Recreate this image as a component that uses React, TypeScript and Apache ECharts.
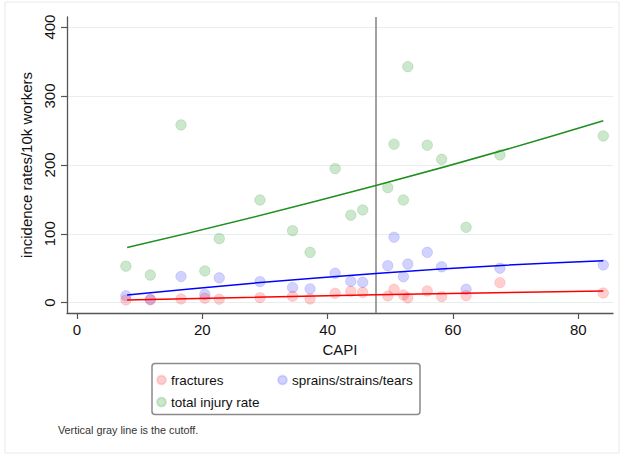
import React, { useEffect, useRef } from "react";
import * as echarts from "echarts";

// CAPI values (x) shared by the three series
const capi = [7.8, 11.7, 16.6, 20.4, 22.7, 29.2, 34.4, 37.2, 41.2, 43.7, 45.6, 49.6, 50.6, 52.1, 52.8, 55.9, 58.2, 62.1, 67.5, 84.0];
const fractures = [4, 4, 5.4, 6.4, 5, 7.3, 9.3, 5.4, 13.6, 16.5, 15, 9.7, 19.4, 11.2, 6.8, 17, 8.7, 10.2, 29, 14];
const sprains = [10, 5, 38, 12, 36, 30.5, 22, 20, 42.7, 31, 29.6, 53.7, 95, 37.7, 56, 73, 52, 19.4, 50, 54.7];
const totalInjury = [53, 40, 258, 46, 93, 149, 104.5, 73, 194.5, 127, 134.5, 167, 230, 149, 342.5, 228.5, 208, 109.4, 214.4, 242];

// fitted lines
const fitX = [8, 47.7, 84];
const fracturesFit = [4, 11.5, 17];
const sprainsFit = [11, 42.5, 61];
const totalFit = [80, 170, 264];

const cutoff = 47.7;
const xTicks = [0, 20, 40, 60, 80];
const yTicks = [0, 100, 200, 300, 400];

const seriesNames = ["fractures", "sprains/strains/tears", "total injury rate"];

const pair = (xs: number[], ys: number[]) => xs.map((x, i) => [x, ys[i]]);

export default function App() {
  const ref = useRef<HTMLDivElement>(null);
  useEffect(() => {
    if (!ref.current) return;
    const chart = echarts.init(ref.current, null, { renderer: "svg" });
    const font = "'Liberation Sans', Arial, sans-serif";
    const axisColor = "#555";
    const option: any = {
      animation: false,
      backgroundColor: "#fff",
      textStyle: { fontFamily: font },
      grid: { left: 67, top: 17, right: 10, bottom: 142 },
      xAxis: {
        type: "value",
        min: -1.6,
        max: 85.55,
        name: "CAPI",
        nameLocation: "middle",
        nameGap: 25,
        nameTextStyle: { fontSize: 15, color: "#111", fontFamily: font },
        axisLine: { show: true, onZero: false, lineStyle: { color: axisColor, width: 1.3 } },
        axisTick: { show: true, length: 6, customValues: xTicks, lineStyle: { color: axisColor, width: 1.2 } },
        axisLabel: { customValues: xTicks, fontSize: 15, color: "#111", margin: 9, fontFamily: font },
        splitLine: { show: false },
      },
      yAxis: {
        type: "value",
        min: -15,
        max: 414.6,
        name: "incidence rates/10k workers",
        nameLocation: "middle",
        nameGap: 20,
        nameTextStyle: { fontSize: 15, color: "#111", fontFamily: font },
        axisLine: { show: true, onZero: false, lineStyle: { color: axisColor, width: 1.3 } },
        axisTick: { show: true, length: 6, customValues: yTicks, lineStyle: { color: axisColor, width: 1.2 } },
        axisLabel: { customValues: yTicks, fontSize: 15, color: "#111", margin: 10, rotate: 90, fontFamily: font },
        splitLine: { show: true, lineStyle: { color: "#e6efee", width: 1 } },
      },
      legend: [
        {
          data: [seriesNames[0], seriesNames[2]],
          orient: "vertical",
          left: 156,
          top: 372,
          padding: 0,
          itemGap: 6,
          itemWidth: 9,
          itemHeight: 9,
          icon: "circle",
          textStyle: { fontSize: 13.5, color: "#111", lineHeight: 16, fontFamily: font },
        },
        {
          data: [seriesNames[1]],
          orient: "vertical",
          left: 277,
          top: 372,
          padding: 0,
          itemGap: 6,
          itemWidth: 9,
          itemHeight: 9,
          icon: "circle",
          textStyle: { fontSize: 13.5, color: "#111", lineHeight: 16, fontFamily: font },
        },
      ],
      graphic: [
        {
          type: "rect",
          z: -10,
          shape: { x: 5, y: 2, width: 614, height: 451 },
          style: { fill: "none", stroke: "#e8e8e8", lineWidth: 1 },
        },
        {
          type: "rect",
          z: -5,
          shape: { x: 152, y: 363.5, width: 268, height: 51, r: 3 },
          style: { fill: "#fff", stroke: "#8a8a8a", lineWidth: 1.5 },
        },
        {
          type: "text",
          x: 58,
          y: 424,
          style: { text: "Vertical gray line is the cutoff.", fontSize: 10.8, fill: "#333", fontFamily: font },
        },
      ],
      series: [
        {
          name: seriesNames[2],
          type: "scatter",
          symbolSize: 10.5,
          data: pair(capi, totalInjury),
          itemStyle: { color: "rgba(0,140,0,0.25)", borderColor: "rgba(0,120,0,0.18)", borderWidth: 1 },
          markLine: {
            silent: true,
            symbol: "none",
            label: { show: false },
            lineStyle: { color: "#8a8a8a", width: 1.6, type: "solid" },
            data: [{ xAxis: cutoff }],
          },
        },
        {
          name: seriesNames[1],
          type: "scatter",
          symbolSize: 10.5,
          data: pair(capi, sprains),
          itemStyle: { color: "rgba(0,0,255,0.22)", borderColor: "rgba(0,0,255,0.15)", borderWidth: 1 },
        },
        {
          name: seriesNames[0],
          type: "scatter",
          symbolSize: 10.5,
          data: pair(capi, fractures),
          itemStyle: { color: "rgba(255,0,0,0.24)", borderColor: "rgba(255,0,0,0.15)", borderWidth: 1 },
        },
        {
          name: "total fit",
          type: "line",
          showSymbol: false,
          smooth: true,
          data: pair(fitX, totalFit),
          lineStyle: { color: "#1f8f1f", width: 1.5 },
          z: 5,
        },
        {
          name: "sprains fit",
          type: "line",
          showSymbol: false,
          smooth: true,
          data: pair(fitX, sprainsFit),
          lineStyle: { color: "#0000ff", width: 1.5 },
          z: 5,
        },
        {
          name: "fractures fit",
          type: "line",
          showSymbol: false,
          smooth: true,
          data: pair(fitX, fracturesFit),
          lineStyle: { color: "#ff0000", width: 1.5 },
          z: 5,
        },
      ],
    };
    chart.setOption(option);
    return () => chart.dispose();
  }, []);
  return <div ref={ref} style={{ width: 623, height: 455, position: "absolute", left: 0, top: 0 }} />;
}
